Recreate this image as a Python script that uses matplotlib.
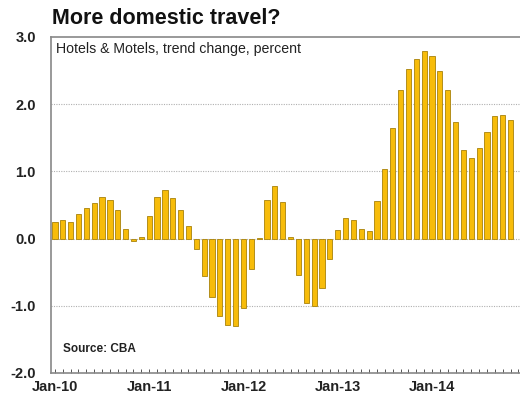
import matplotlib.pyplot as plt
import numpy as np

plt.rcParams["font.family"] = ["Liberation Sans", "DejaVu Sans"]

# monthly trend change, Jan-10 .. Nov-14
values_2010 = [0.25, 0.27, 0.25, 0.37, 0.46, 0.53, 0.62, 0.58, 0.43, 0.15, -0.04, 0.03]
values_2011 = [0.34, 0.62, 0.73, 0.61, 0.42, 0.19, -0.16, -0.55, -0.87, -1.15, -1.28, -1.30]
values_2012 = [-1.04, -0.45, 0.01, 0.57, 0.78, 0.54, 0.02, -0.54, -0.96, -1.01, -0.73, -0.31]
values_2013 = [0.13, 0.30, 0.27, 0.15, 0.11, 0.56, 1.04, 1.65, 2.21, 2.53, 2.68, 2.79]
values_2014 = [2.72, 2.49, 2.21, 1.73, 1.32, 1.20, 1.35, 1.58, 1.83, 1.84, 1.77]
values = values_2010 + values_2011 + values_2012 + values_2013 + values_2014

year_labels = ["Jan-10", "Jan-11", "Jan-12", "Jan-13", "Jan-14"]
y_ticks = [3.0, 2.0, 1.0, 0.0, -1.0, -2.0]

W, H = 520, 394
fig = plt.figure(figsize=(W / 100, H / 100), dpi=100)
ax = fig.add_axes([51 / W, (H - 373) / H, (W - 51) / W, (373 - 37) / H])

x = np.arange(len(values))
ax.bar(x, values, width=0.66, color="#F7BC0A", edgecolor="#A8820A", linewidth=0.6, zorder=3)

ax.set_xlim(-0.5, 59.2)
ax.set_ylim(-2.0, 3.0)

ax.set_yticks(y_ticks)
ax.set_yticklabels([f"{v:.1f}" for v in y_ticks], fontsize=10.5, fontweight="bold", color="#222222")
for v in [2.0, 1.0, 0.0, -1.0]:
    ax.axhline(v, color="#b0b0b0", linestyle=(0, (1, 1.2)), linewidth=0.8, zorder=1)

ax.set_xticks(np.arange(0, 60, 12))
ax.set_xticklabels(year_labels, fontsize=10.5, fontweight="bold", color="#222222")
ax.set_xticks(np.arange(0, 60), minor=True)
ax.tick_params(axis="x", which="both", direction="in", length=3, width=0.7, color="#555555", pad=5)
ax.tick_params(axis="y", length=0, pad=11)

for side in ["left", "top", "bottom"]:
    ax.spines[side].set_color("#888888")
    ax.spines[side].set_linewidth(1.2)
ax.spines["right"].set_visible(False)

ax.text(0.010, 0.985, "Hotels & Motels, trend change, percent", transform=ax.transAxes,
        fontsize=10.2, va="top", ha="left", color="#222222")
ax.text(0.025, 0.055, "Source: CBA", transform=ax.transAxes,
        fontsize=8.5, fontweight="bold", va="bottom", ha="left", color="#222222")

fig.text(52 / W, 1 - 18 / H, "More domestic travel?", fontsize=15.5, fontweight="bold",
         va="center", ha="left", color="#111111")

fig.savefig("out.png", dpi=100)
